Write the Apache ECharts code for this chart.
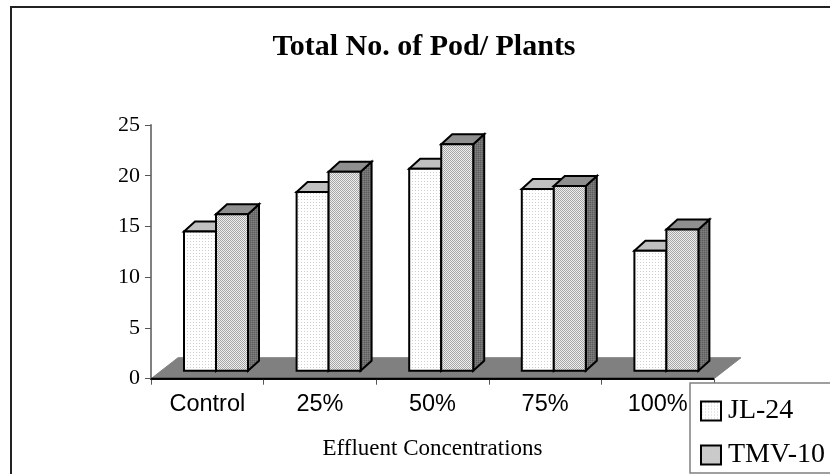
<!DOCTYPE html>
<html><head><meta charset="utf-8">
<style>html,body{margin:0;padding:0;background:#fff}#c{width:830px;height:474px}</style>
<script src="https://cdn.jsdelivr.net/npm/echarts@6/dist/echarts.min.js"></script>
</head><body><div id="c"></div>
<script>
const categories = ['Control','25%','50%','75%','100%'];
const jl24 = [14.5,18.4,20.7,18.7,12.6];
const tmv10 = [16.2,20.4,23.1,19,14.7];
const yTicks = {min:0,max:25,interval:5};

function tile(size,bg,dots){
  const c=document.createElement('canvas');c.width=c.height=size;
  const g=c.getContext('2d');g.fillStyle=bg;g.fillRect(0,0,size,size);
  dots.forEach(d=>{g.fillStyle=d[2];g.fillRect(d[0],d[1],1,1);});
  return {image:c,repeat:'repeat'};
}
const patJL = tile(3,'#ffffff',[[1,1,'#cfcfcf']]);
const patTMV = tile(2,'#d4d4d4',[[0,0,'#a4a4a4'],[1,1,'#a8a8a8'],[1,0,'#eeeeee'],[0,1,'#eeeeee']]);
const patSide = tile(2,'#707070',[[0,0,'#5c5c5c'],[1,1,'#808080']]);

const BAR_W=32, FRONT_DX=8.7, FRONT_DY=-8, DEPTH_DX=11, DEPTH_DY=-10;
const FLOOR_DX=27, FLOOR_DY=-21;

function barRender(side,topColor,sideFill,fill){
  return function(params,api){
    const base=api.coord([api.value(0),0]);
    const top=api.coord([api.value(0),api.value(1)]);
    const xc=base[0]+FRONT_DX;
    const x0=side<0?xc-BAR_W:xc, x1=x0+BAR_W;
    const yb=base[1]+FRONT_DY, yt=top[1];
    const st={stroke:'#000',lineWidth:2,lineJoin:'miter'};
    return {type:'group',children:[
      {type:'polygon',shape:{points:[[x1,yb],[x1,yt],[x1+DEPTH_DX,yt+DEPTH_DY],[x1+DEPTH_DX,yb+DEPTH_DY]]},style:{fill:sideFill,...st}},
      {type:'polygon',shape:{points:[[x0,yt],[x1,yt],[x1+DEPTH_DX,yt+DEPTH_DY],[x0+DEPTH_DX,yt+DEPTH_DY]]},style:{fill:topColor,...st}},
      {type:'rect',shape:{x:x0,y:yt,width:BAR_W,height:yb-yt},style:{fill:fill,...st}}
    ]};
  };
}
function floorRender(params,api){
  const cs=params.coordSys;
  const y=api.coord([0,0])[1], xl=cs.x, xr=cs.x+cs.width;
  return {type:'group',children:[
    {type:'polygon',shape:{points:[[xl,y],[xr,y],[xr+FLOOR_DX,y+FLOOR_DY],[xl+FLOOR_DX,y+FLOOR_DY]]},style:{fill:'#808080',stroke:'#808080',lineWidth:1}},
    {type:'line',shape:{x1:xl,y1:y,x2:xr,y2:y},style:{stroke:'#000',lineWidth:2}}
  ]};
}
const serif='"Liberation Serif","Times New Roman",serif', sans='"Liberation Sans",Arial,sans-serif';
const chart=echarts.init(document.getElementById('c'),null,{renderer:'canvas'});
chart.setOption({
  animation:false,
  backgroundColor:'#fff',
  title:{text:'Total No. of Pod/ Plants',left:424,top:32,textAlign:'center',padding:0,
    textStyle:{fontFamily:serif,fontWeight:'bold',fontSize:30,color:'#000'}},
  grid:{left:151,top:125,width:563,height:253.7},
  xAxis:{type:'category',data:categories,
    name:'Effluent Concentrations',nameLocation:'middle',nameGap:59,
    nameTextStyle:{fontFamily:serif,fontSize:23,color:'#000'},
    axisLine:{lineStyle:{color:'#000',width:2}},
    axisTick:{show:true,alignWithLabel:false,length:6,lineStyle:{color:'#555',width:1}},
    axisLabel:{fontFamily:sans,fontSize:23.5,color:'#000',margin:14}},
  yAxis:{type:'value',min:yTicks.min,max:yTicks.max,interval:yTicks.interval,
    axisLine:{show:true,lineStyle:{color:'#808080',width:2}},
    axisTick:{show:true,length:6,lineStyle:{color:'#555',width:1}},
    splitLine:{show:false},
    axisLabel:{fontFamily:serif,fontSize:22,color:'#000',margin:11}},
  legend:{data:[{name:'JL-24',icon:'rect'},{name:'TMV-10',icon:'rect'}],orient:'vertical',left:690,top:383,height:200,
    padding:[14,20,4,10],itemWidth:20,itemHeight:19,itemGap:16,
    backgroundColor:'#fff',borderColor:'#808080',borderWidth:1.5,
    textStyle:{fontFamily:serif,fontSize:28,lineHeight:20,color:'#000',padding:[0,0,0,2]},z:20},
  graphic:[{type:'polyline',silent:true,z:30,shape:{points:[[11,474],[11,7],[830,7]]},style:{fill:null,stroke:'#222',lineWidth:2}}],
  series:[
    {type:'custom',name:'floor',z:1,silent:true,renderItem:floorRender,data:[[0,0]],encode:{x:0,y:1},clip:false},
    {type:'custom',name:'JL-24',z:2,renderItem:barRender(-1,'#c0c0c0',patSide,patJL),
      itemStyle:{color:patJL,borderColor:'#000',borderWidth:2},
      data:jl24.map((v,i)=>[i,v]),encode:{x:0,y:1},clip:false},
    {type:'custom',name:'TMV-10',z:3,renderItem:barRender(1,'#8f8f8f',patSide,patTMV),
      itemStyle:{color:patTMV,borderColor:'#000',borderWidth:2},
      data:tmv10.map((v,i)=>[i,v]),encode:{x:0,y:1},clip:false}
  ]
});
</script></body></html>
